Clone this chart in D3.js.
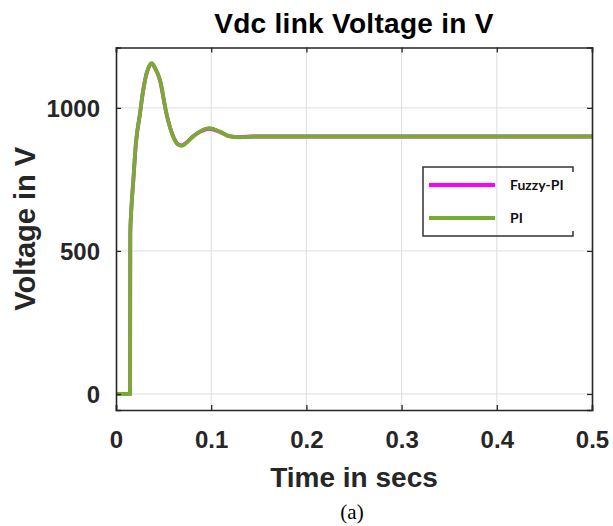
<!DOCTYPE html>
<html>
<head>
<meta charset="utf-8">
<script src="https://cdn.jsdelivr.net/npm/d3@7"></script>
<style>
  html, body { margin: 0; padding: 0; background: #fff; }
  svg { display: block; }
</style>
</head>
<body>
<svg id="chart" width="613" height="526"></svg>
<script>
// Simulation samples: time (s) and DC link voltage (V)
const time = [0, 0.005, 0.010, 0.0148, 0.0150, 0.0160, 0.0182, 0.0210, 0.0252, 0.0280, 0.0305, 0.0340, 0.0375, 0.0410, 0.0462, 0.0530, 0.0600, 0.0650, 0.0690, 0.0740, 0.0810, 0.0880, 0.0980, 0.1090, 0.1200, 0.1300, 0.1450, 0.2, 0.3, 0.4, 0.5];
const fuzzyPI = [0, 0, 0, 0, 560, 640, 746, 878, 979, 1049, 1097, 1139, 1154, 1139, 1096, 979, 901, 873, 869, 879, 901, 916, 927, 916, 900, 898, 900, 900, 900, 900, 900];
const pi = [0, 0, 0, 0, 560, 640, 748, 880, 981, 1050, 1098, 1140, 1156, 1140, 1098, 981, 900, 872, 867, 878, 900, 917, 929, 917, 900, 897, 900, 900, 900, 900, 900];

const xTicks = [0, 0.1, 0.2, 0.3, 0.4, 0.5];
const yTicks = [0, 500, 1000];
const seriesNames = ["Fuzzy-PI", "PI"];
const seriesColors = ["#ff00ff", "#77ac30"];

const svg = d3.select("#chart");
const margin = { left: 116, right: 21, top: 47.5, bottom: 116 };
const W = 613, H = 526;
const plotW = W - margin.left - margin.right;
const plotH = H - margin.top - margin.bottom;

const x = d3.scaleLinear().domain([0, 0.5]).range([margin.left, margin.left + plotW]);
const y = d3.scaleLinear().domain([-56, 1211]).range([margin.top + plotH, margin.top]);

const axisColor = "#262626";
const fontBold = "'Liberation Sans', Arial, Helvetica, sans-serif";

// grid
const grid = svg.append("g");
grid.selectAll("line.gx").data(xTicks.slice(1, -1)).join("line")
  .attr("x1", d => x(d)).attr("x2", d => x(d))
  .attr("y1", margin.top).attr("y2", margin.top + plotH)
  .attr("stroke", "#dedede").attr("stroke-width", 1);
grid.selectAll("line.gy").data(yTicks).join("line")
  .attr("x1", margin.left).attr("x2", margin.left + plotW)
  .attr("y1", d => y(d)).attr("y2", d => y(d))
  .attr("stroke", "#dedede").attr("stroke-width", 1);

// curves
const rows = [fuzzyPI, pi];
const line = d3.line()
  .x((d, i) => x(time[i]))
  .y(d => y(d))
  .curve(d3.curveMonotoneX);
svg.append("g").selectAll("path").data(rows).join("path")
  .attr("d", d => line(d))
  .attr("fill", "none")
  .attr("stroke", (d, i) => seriesColors[i])
  .attr("stroke-width", 3.8)
  .attr("stroke-linejoin", "round");

// axes (ticks point inward, boxed frame)
const axBottom = d3.axisBottom(x).tickValues(xTicks).tickSize(-5).tickPadding(21)
  .tickFormat(d3.format("~g"));
const axLeft = d3.axisLeft(y).tickValues(yTicks).tickSize(-5).tickPadding(16)
  .tickFormat(d3.format("d"));
const axTop = d3.axisTop(x).tickValues(xTicks).tickSize(-5).tickFormat("");
const axRight = d3.axisRight(y).tickValues(yTicks).tickSize(-5).tickFormat("");

function style(g) {
  g.select(".domain").attr("stroke", axisColor).attr("stroke-width", 1.6);
  g.selectAll(".tick line").attr("stroke", axisColor).attr("stroke-width", 1.3);
  g.selectAll(".tick text").attr("fill", axisColor)
    .style("font-family", fontBold).style("font-weight", "bold").style("font-size", "24px");
}
svg.append("g").attr("transform", `translate(0,${margin.top + plotH})`).call(axBottom).call(style)
  .selectAll(".tick text").attr("dy", "0.71em");
svg.append("g").attr("transform", `translate(${margin.left},0)`).call(axLeft).call(style)
  .selectAll(".tick text").attr("dy", "0.36em");
svg.append("g").attr("transform", `translate(0,${margin.top})`).call(axTop).call(style);
svg.append("g").attr("transform", `translate(${margin.left + plotW},0)`).call(axRight).call(style);

// title and axis labels
svg.append("text").attr("x", margin.left + plotW / 2).attr("y", 33)
  .attr("text-anchor", "middle").attr("fill", "#000")
  .style("font-family", fontBold).style("font-weight", "bold").style("font-size", "28px")
  .style("letter-spacing", "0.3px")
  .text("Vdc link Voltage in V");
svg.append("text").attr("x", margin.left + plotW / 2).attr("y", 487)
  .attr("text-anchor", "middle").attr("fill", axisColor)
  .style("font-family", fontBold).style("font-weight", "bold").style("font-size", "28px")
  .text("Time in secs");
svg.append("text")
  .attr("transform", `translate(35,${margin.top + plotH / 2}) rotate(-90)`)
  .attr("text-anchor", "middle").attr("fill", axisColor)
  .style("font-family", fontBold).style("font-weight", "bold").style("font-size", "29px")
  .text("Voltage in V");
svg.append("text").attr("x", 352).attr("y", 519)
  .attr("text-anchor", "middle").attr("fill", "#000")
  .style("font-family", "'Liberation Serif', 'Times New Roman', serif").style("font-size", "21px")
  .text("(a)");

// legend
const lg = { x0: 423, y0: 167, x1: 573, y1: 236 };
svg.append("path")
  .attr("d", `M${lg.x1},${lg.y0 + 5}V${lg.y0}H${lg.x0}V${lg.y1}H${lg.x1}V${lg.y1 - 5}`)
  .attr("fill", "none").attr("stroke", "#333").attr("stroke-width", 1.5);
const legendY = [185, 218];
const items = svg.append("g").selectAll("g").data(seriesNames).join("g");
items.append("line")
  .attr("x1", 429).attr("x2", 495)
  .attr("y1", (d, i) => legendY[i]).attr("y2", (d, i) => legendY[i])
  .attr("stroke", (d, i) => seriesColors[i]).attr("stroke-width", 4);
items.append("text")
  .attr("x", 510).attr("y", (d, i) => legendY[i]).attr("dy", "0.36em")
  .attr("fill", "#111")
  .style("font-family", "Lato, 'Liberation Sans', sans-serif").style("font-weight", "bold").style("font-size", "14px")
  .text(d => d);
</script>
</body>
</html>
